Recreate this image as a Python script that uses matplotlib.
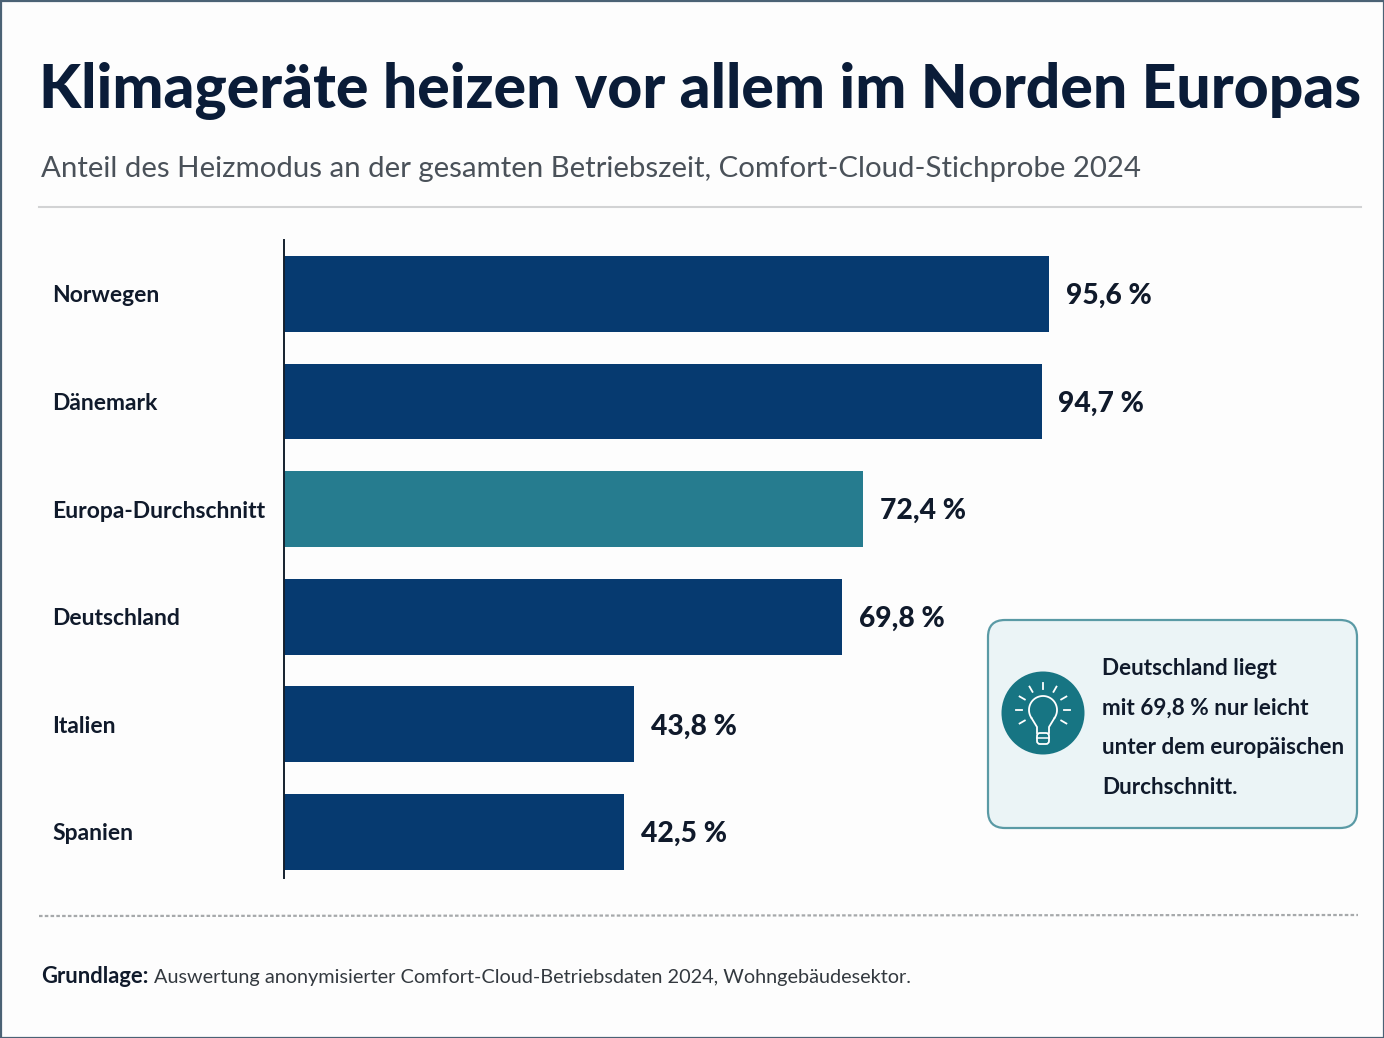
import numpy as np
import matplotlib
matplotlib.use("Agg")
import matplotlib.pyplot as plt
from matplotlib.font_manager import FontProperties
from matplotlib.patches import Circle, FancyBboxPatch, Rectangle
from matplotlib.textpath import TextPath

# Data
countries = ["Norwegen", "Dänemark", "Europa-Durchschnitt", "Deutschland", "Italien", "Spanien"]
shares = [95.6, 94.7, 72.4, 69.8, 43.8, 42.5]
share_labels = ["95,6 %", "94,7 %", "72,4 %", "69,8 %", "43,8 %", "42,5 %"]
highlight = "Europa-Durchschnitt"

title = "Klimageräte heizen vor allem im Norden Europas"
subtitle = "Anteil des Heizmodus an der gesamten Betriebszeit, Comfort-Cloud-Stichprobe 2024"
note_lines = ["Deutschland liegt", "mit 69,8 % nur leicht", "unter dem europäischen", "Durchschnitt."]
source_bold = "Grundlage:"
source_text = "Auswertung anonymisierter Comfort-Cloud-Betriebsdaten 2024, Wohngebäudesektor."

W, H = 1384, 1038
NAVY = "#063a70"
TEAL = "#267c8f"
INK = "#101a2b"
FONT = "Lato"

plt.rcParams["font.family"] = [FONT, "DejaVu Sans"]


def fit_size(text, width_px, weight="normal"):
    # font size in points that makes text about width_px wide at dpi 100
    fp = FontProperties(family=FONT, weight=weight)
    bbox = TextPath((0, 0), text, size=10, prop=fp).get_extents()
    return 10 * width_px / bbox.width * 0.72


fig = plt.figure(figsize=(W / 100, H / 100), dpi=100, facecolor="#fdfdfd")

# Full-figure layer in pixel coordinates for frame, rules, note box
bg = fig.add_axes([0, 0, 1, 1])
bg.set_xlim(0, W)
bg.set_ylim(H, 0)
bg.axis("off")
bg.add_patch(Rectangle((0.5, 0.5), W - 1, H - 1, fill=False, ec="#4b6275", lw=1.6))

bg.text(39, 108, title, fontsize=fit_size(title, 1316, "black"), fontweight="black", color="#0a1c38", va="baseline")
bg.text(41, 177, subtitle, fontsize=fit_size(subtitle, 1096), color="#4a5159", va="baseline")
bg.plot([39, 1361], [207, 207], color="#d2d3d4", lw=1.5)
bg.plot([39, 1358], [916, 915], color="#a6a9ab", lw=1.6, ls=(0, (1.6, 1.0)))

bg.text(41, 983, source_bold, fontsize=fit_size(source_bold, 105, "bold"), fontweight="bold", color=INK, va="baseline")
bg.text(154, 983, source_text, fontsize=fit_size(source_text, 759), color="#33393f", va="baseline")

# Chart
ax = fig.add_axes([284 / W, 1 - 878 / H, 1100 / W, 638 / H])
ax.patch.set_alpha(0)
y = np.arange(len(countries))
colors = [TEAL if c == highlight else NAVY for c in countries]
ax.barh(y, shares, height=0.705, color=colors)
ax.set_xlim(0, 137.5)
ax.set_ylim(5.43, -0.502)
for s in ["top", "right", "bottom"]:
    ax.spines[s].set_visible(False)
ax.spines["left"].set_color("#14202e")
ax.spines["left"].set_linewidth(1.4)
ax.set_xticks([])
ax.set_yticks(y)
ax.set_yticklabels(countries, fontsize=fit_size("Europa-Durchschnitt", 211, "bold"), fontweight="bold",
                   color=INK, ha="left")
ax.tick_params(axis="y", length=0, pad=232 * 0.72)
value_size = fit_size("95,6 %", 84, "black")
for yi, v, lab in zip(y, shares, share_labels):
    ax.text(v + 2.1, yi + 0.02, lab, fontsize=value_size, fontweight="black", color=INK, va="center")

# Note box
top = fig.add_axes([0, 0, 1, 1])
top.set_xlim(0, W)
top.set_ylim(H, 0)
top.axis("off")
top.patch.set_alpha(0)
top.add_patch(FancyBboxPatch((988, 620), 369, 208, boxstyle="round,pad=0,rounding_size=17",
                             fc="#ebf4f6", ec="#5a9aa5", lw=1.6))
note_size = fit_size("unter dem europäischen", 240, "bold")
for i, line in enumerate(note_lines):
    top.text(1102, 675 + i * 39.5, line, fontsize=note_size, fontweight="bold", color=INK, va="baseline")

# Lightbulb icon
cx, cy = 1043, 712
top.add_patch(Circle((cx, cy + 1), 41.5, fc="#177583", ec="none"))
a = np.radians(np.linspace(-215, 35, 80))
top.plot(cx + 14 * np.cos(a), cy - 2 + 14 * np.sin(a), color="white", lw=1.3)
top.plot([cx - 11.5, cx - 6, cx - 6], [cy + 6, cy + 15, cy + 21], color="white", lw=1.3)
top.plot([cx + 11.5, cx + 6, cx + 6], [cy + 6, cy + 15, cy + 21], color="white", lw=1.3)
top.add_patch(FancyBboxPatch((cx - 6, cy + 21), 12, 11, boxstyle="round,pad=0,rounding_size=3",
                             fc="none", ec="white", lw=1.3))
top.plot([cx - 6, cx + 6], [cy + 26, cy + 26], color="white", lw=1.1)
for deg in [-90, -60, -120, -30, -150, 0, 180, 30, 150]:
    r = np.radians(deg)
    top.plot([cx + 21 * np.cos(r), cx + 27 * np.cos(r)],
             [cy - 2 + 21 * np.sin(r), cy - 2 + 27 * np.sin(r)], color="white", lw=1.3)

fig.savefig("out.png", dpi=100, facecolor=fig.get_facecolor())
